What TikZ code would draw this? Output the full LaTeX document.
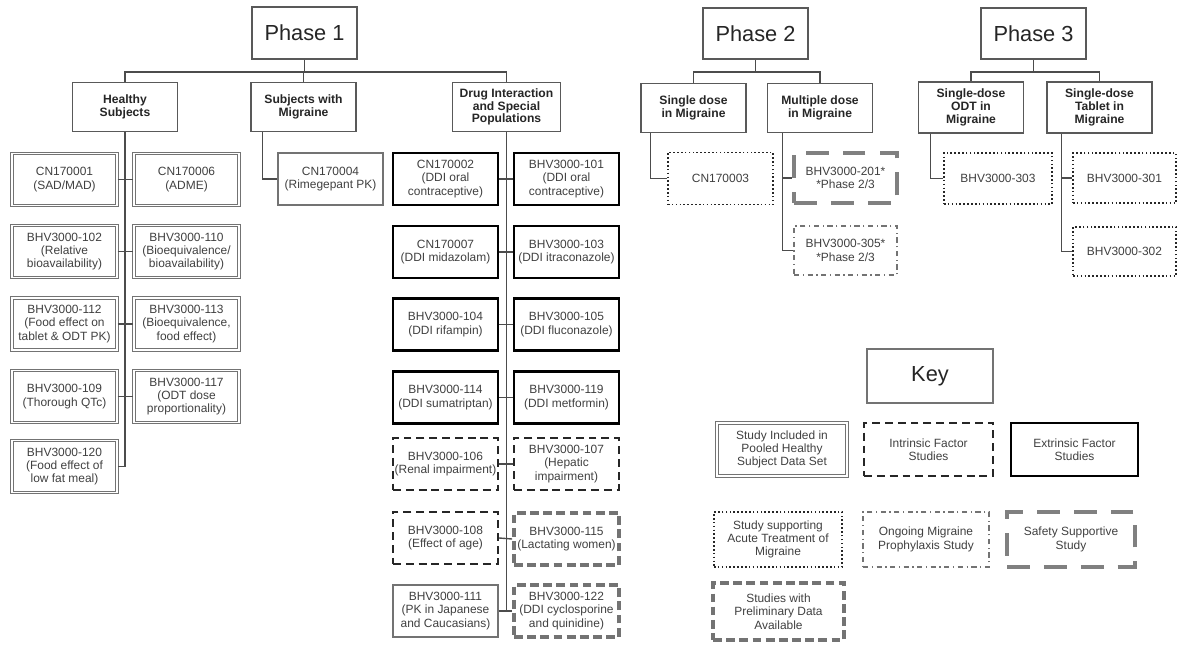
\documentclass[tikz,border=0pt]{standalone}
\usepackage{fontspec}
\setmainfont{Liberation Sans}
\usetikzlibrary{positioning}

\begin{document}
\begin{tikzpicture}[x=0.02cm, y=-0.02cm,
    base/.style={rectangle, fill=white, align=center, inner sep=1pt, text=black!75, font=\fontsize{6.8}{7.6}\selectfont},
    study/.style={base, minimum width=2.1cm, minimum height=1.04cm},
    phase/.style={base, draw=black!65, line width=1pt, minimum width=2.1cm, minimum height=1.03cm, text=black!85, font=\fontsize{12.4}{14}\selectfont},
    group/.style={base, draw=black!65, line width=0.9pt, minimum width=2.1cm, minimum height=0.98cm, text=black!85, font=\bfseries\fontsize{6.9}{7.3}\selectfont},
    pooled/.style={study, draw=black!55, line width=0.6pt, double=white, double distance=0.7pt},
    extrinsic/.style={study, draw=black, line width=1.6pt},
    intrinsic/.style={study, draw=black!85, line width=1.3pt, dash pattern=on 4.5pt off 2.8pt},
    acute/.style={study, draw=black!85, line width=1.1pt, dash pattern=on 0.9pt off 1.3pt},
    ongoing/.style={study, draw=black!55, line width=0.7pt, dash pattern=on 3pt off 2pt on 0.7pt off 2pt},
    safety/.style={study, draw=black!50, line width=2pt, dash pattern=on 13pt off 8pt},
    prelim/.style={study, draw=black!55, line width=2.2pt, dash pattern=on 5pt off 2.5pt},
    plain/.style={study, draw=black!55, line width=0.7pt},
    link/.style={draw=black!70, line width=0.8pt}
]
\useasboundingbox (0,0) rectangle (1179,648);

% Phases
\node[phase] (p1) at (304.5,33) {Phase 1};
\node[phase] (p2) at (755.5,33.5) {Phase 2};
\node[phase] (p3) at (1033.5,33.5) {Phase 3};
\coordinate (bar) at (0,72);

% Phase 1 groups
\node[group] (hs) at (125,107) {Healthy\\Subjects};
\node[group] (sm) at (303.5,107) {Subjects with\\Migraine};
\node[group, minimum width=2.16cm] (ddi) at (506.5,107) {Drug Interaction\\and Special\\Populations};

% Healthy subjects
\node[pooled] (h1) at (64.5,179.5) {CN170001\\(SAD/MAD)};
\node[pooled] (h2) at (186.5,179.5) {CN170006\\(ADME)};
\node[pooled] (h3) at (64.5,251.5) {BHV3000-102\\(Relative\\bioavailability)};
\node[pooled] (h4) at (186.5,251.5) {BHV3000-110\\(Bioequivalence/\\bioavailability)};
\node[pooled] (h5) at (64.5,324) {BHV3000-112\\(Food effect on\\tablet \& ODT PK)};
\node[pooled] (h6) at (186.5,324) {BHV3000-113\\(Bioequivalence,\\food effect)};
\node[pooled] (h7) at (64.5,396.5) {BHV3000-109\\(Thorough QTc)};
\node[pooled] (h8) at (186.5,396.5) {BHV3000-117\\(ODT dose\\proportionality)};
\node[pooled] (h9) at (64.5,466.5) {BHV3000-120\\(Food effect of\\low fat meal)};

% Subjects with migraine
\node[plain] (cn4) at (330.5,179) {CN170004\\(Rimegepant PK)};

% Drug interaction and special populations
\node[extrinsic] (d1) at (445.5,179) {CN170002\\(DDI oral\\contraceptive)};
\node[extrinsic] (d2) at (566.5,179) {BHV3000-101\\(DDI oral\\contraceptive)};
\node[extrinsic] (d3) at (445.5,252) {CN170007\\(DDI midazolam)};
\node[extrinsic] (d4) at (566.5,252) {BHV3000-103\\(DDI itraconazole)};
\node[extrinsic] (d5) at (445.5,324.5) {BHV3000-104\\(DDI rifampin)};
\node[extrinsic] (d6) at (566.5,324.5) {BHV3000-105\\(DDI fluconazole)};
\node[extrinsic] (d7) at (445.5,397.5) {BHV3000-114\\(DDI sumatriptan)};
\node[extrinsic] (d8) at (566.5,397.5) {BHV3000-119\\(DDI metformin)};
\node[intrinsic] (d9) at (445.5,464) {BHV3000-106\\(Renal impairment)};
\node[intrinsic] (d10) at (566.5,464) {BHV3000-107\\(Hepatic\\impairment)};
\node[intrinsic] (d11) at (445.5,538) {BHV3000-108\\(Effect of age)};
\node[prelim] (d12) at (566.5,539) {BHV3000-115\\(Lactating women)};
\node[plain] (d13) at (445.5,611) {BHV3000-111\\(PK in Japanese\\and Caucasians)};
\node[prelim] (d14) at (566.5,611) {BHV3000-122\\(DDI cyclosporine\\and quinidine)};

% Phase 2
\node[group] (sd) at (693.5,108) {Single dose\\in Migraine};
\node[group] (md) at (820,108) {Multiple dose\\in Migraine};
\node[acute] (cn3) at (720.5,178.5) {CN170003};
\node[safety, minimum width=2.06cm, minimum height=1cm] (b201) at (845.5,178) {BHV3000-201*\\*Phase 2/3};
\node[ongoing, minimum width=2.06cm, minimum height=0.98cm] (b305) at (845.5,250.5) {BHV3000-305*\\*Phase 2/3};

% Phase 3
\node[group, minimum height=1.02cm] (odt) at (971,107.5) {Single-dose\\ODT in\\Migraine};
\node[group, minimum height=1.02cm] (tab) at (1099.5,107.5) {Single-dose\\Tablet in\\Migraine};
\node[acute, minimum width=2.16cm, minimum height=1.02cm] (b303) at (998,178.5) {BHV3000-303};
\node[acute, minimum width=2.06cm, minimum height=1cm] (b301) at (1124.5,178) {BHV3000-301};
\node[acute, minimum width=2.06cm, minimum height=0.98cm] (b302) at (1124.5,251.5) {BHV3000-302};

% Key
\node[phase, draw=black!55, line width=0.8pt, minimum width=2.52cm, minimum height=1.08cm] (key) at (930,376) {Key};
\node[pooled, minimum width=2.6cm, minimum height=1.06cm] (k1) at (782,449.5) {Study Included in\\Pooled Healthy\\Subject Data Set};
\node[intrinsic, minimum width=2.58cm, minimum height=1.06cm] (k2) at (928.5,449.5) {Intrinsic Factor\\Studies};
\node[extrinsic, minimum width=2.54cm, minimum height=1.06cm] (k3) at (1074.5,449.5) {Extrinsic Factor\\Studies};
\node[acute, minimum width=2.56cm, minimum height=1.1cm] (k4) at (778,539.5) {Study supporting\\Acute Treatment of\\Migraine};
\node[ongoing, minimum width=2.52cm, minimum height=1.1cm] (k5) at (926,539.5) {Ongoing Migraine\\Prophylaxis Study};
\node[safety, minimum width=2.56cm, minimum height=1.1cm] (k6) at (1071,539.5) {Safety Supportive\\Study};
\node[prelim, minimum width=2.62cm, minimum height=1.14cm] (k7) at (778.5,611.5) {Studies with\\Preliminary Data\\Available};

% Phase 1 tree
\draw[link] (p1.south) -- (p1.south |- bar);
\draw[link] (hs.north) -- (hs.north |- bar) -- (ddi.north |- bar) -- (ddi.north);
\draw[link] (sm.north) -- (sm.north |- bar);
\draw[link] (hs.south) -- (hs.south |- h9.east) -- (h9.east);
\draw[link] (h1.east) -- (h2.west);
\draw[link] (h3.east) -- (h4.west);
\draw[link] (h5.east) -- (h6.west);
\draw[link] (h7.east) -- (h8.west);
\draw[link] ([xshift=0.24cm]sm.south west) |- (cn4.west);
\draw[link] (ddi.south) -- (ddi.south |- d13.east);
\foreach \l/\r in {d1/d2, d3/d4, d5/d6, d7/d8, d9/d10, d11/d12, d13/d14}
    \draw[link] (\l.east) -- (\r.west);

% Phase 2 tree
\draw[link] (p2.south) -- (p2.south |- bar);
\draw[link] (sd.north) -- (sd.north |- bar) -- (md.north |- bar) -- (md.north);
\draw[link] ([xshift=0.2cm]sd.south west) |- (cn3.west);
\coordinate (mdl) at ([xshift=0.32cm]md.south west);
\draw[link] (mdl) |- (b305.west);
\draw[link] (mdl |- b201.west) -- (b201.west);

% Phase 3 tree
\draw[link] (p3.south) -- (p3.south |- bar);
\draw[link] (odt.north) -- (odt.north |- bar) -- (tab.north |- bar) -- (tab.north);
\draw[link] ([xshift=0.26cm]odt.south west) |- (b303.west);
\coordinate (tabl) at ([xshift=0.3cm]tab.south west);
\draw[link] (tabl) |- (b302.west);
\draw[link] (tabl |- b301.west) -- (b301.west);

\end{tikzpicture}
\end{document}
